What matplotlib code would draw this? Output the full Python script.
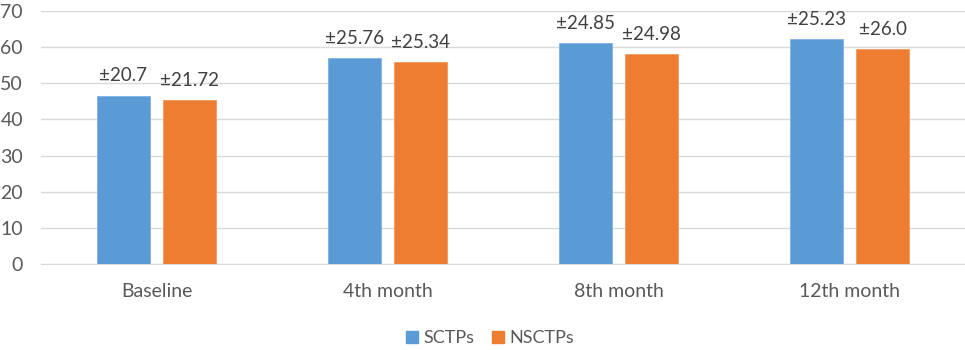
import numpy as np
import matplotlib
matplotlib.use('Agg')
import matplotlib.pyplot as plt
from matplotlib.patches import Patch

categories = ['Baseline', '4th month', '8th month', '12th month']
sctps = [46.6, 56.9, 61.2, 62.2]
nsctps = [45.3, 55.8, 58.1, 59.5]
sctps_sd = ['±20.7', '±25.76', '±24.85', '±25.23']
nsctps_sd = ['±21.72', '±25.34', '±24.98', '±26.0']

blue = '#5B9BD5'
orange = '#ED7D31'
grey = '#595959'

plt.rcParams['font.family'] = ['Lato', 'DejaVu Sans']

fig = plt.figure(figsize=(9.65, 3.5), dpi=100)
ax = fig.add_axes([41 / 965, 1 - 264 / 350, 924 / 965, 253 / 350])

x = np.arange(len(categories))
w = 0.23
off = 0.143
b1 = ax.bar(x - off, sctps, w, color=blue, edgecolor='#7FB2E0', linewidth=0.6, zorder=3)
b2 = ax.bar(x + off, nsctps, w, color=orange, edgecolor='#F29A5E', linewidth=0.6, zorder=3)

# SD labels above each bar
for bars, labels in [(b1, sctps_sd), (b2, nsctps_sd)]:
    for r, lab in zip(bars, labels):
        ax.annotate(lab, (r.get_x() + r.get_width() / 2, r.get_height()),
                    xytext=(0, 8), textcoords='offset points',
                    ha='center', va='bottom', fontsize=13.5, color='#404040')

ax.set_xlim(-0.5, 3.5)
ax.set_ylim(0, 70)
ax.set_yticks(range(0, 71, 10))
ax.set_xticks(x)
ax.set_xticklabels(categories)
ax.grid(axis='y', color='#D9D9D9', linewidth=1, zorder=0)
for s in ['top', 'right', 'left']:
    ax.spines[s].set_visible(False)
ax.spines['bottom'].set_color('#D9D9D9')
ax.tick_params(axis='both', length=0, colors=grey, labelsize=14)
ax.tick_params(axis='x', pad=14)
ax.tick_params(axis='y', pad=13)

handles = [Patch(color=blue, label='SCTPs'), Patch(color=orange, label='NSCTPs')]
fig.legend(handles=handles, loc='center', bbox_to_anchor=(490 / 965, 1 - 338 / 350),
           ncol=2, frameon=False, fontsize=13, handlelength=0.65, handleheight=0.65,
           handletextpad=0.3, columnspacing=1.0, labelcolor=grey)

fig.savefig('out.png', dpi=100)
